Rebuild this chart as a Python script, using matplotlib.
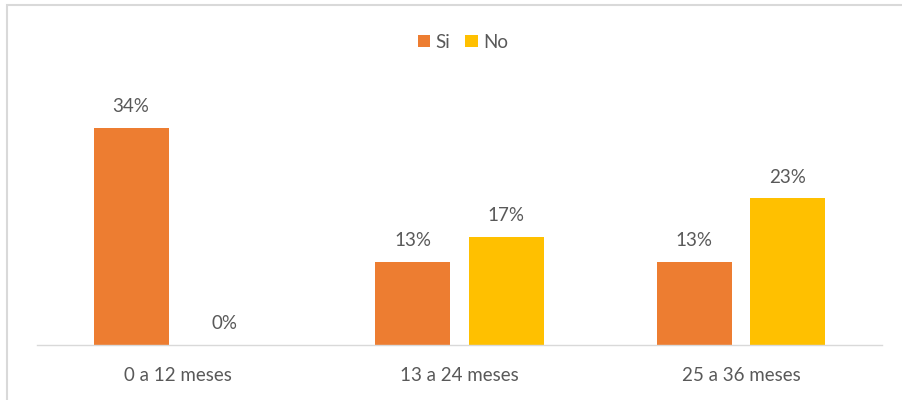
import matplotlib
matplotlib.use("Agg")
import matplotlib.pyplot as plt
import numpy as np
from matplotlib.patches import Rectangle

categories = ["0 a 12 meses", "13 a 24 meses", "25 a 36 meses"]
si_values = [34, 13, 13]
no_values = [0, 17, 23]
series_names = ["Si", "No"]

SI_COLOR = "#ED7D31"
NO_COLOR = "#FFC000"
TEXT_COLOR = "#595959"
FS = 13.5

plt.rcParams["font.family"] = ["Lato", "DejaVu Sans"]

fig = plt.figure(figsize=(9.02, 4.0), dpi=100)
ax = fig.add_axes([37 / 902, 55 / 400, 845 / 902, 255 / 400])

x = np.arange(len(categories))
width = 0.266
offset = 0.166
bars_si = ax.bar(x - offset, si_values, width, color=SI_COLOR, label=series_names[0])
bars_no = ax.bar(x + offset, no_values, width, color=NO_COLOR, label=series_names[1])

for bars, vals in ((bars_si, si_values), (bars_no, no_values)):
    for b, v in zip(bars, vals):
        ax.text(b.get_x() + b.get_width() / 2, v + 2.0, f"{v}%",
                ha="center", va="bottom", fontsize=FS, color=TEXT_COLOR)

ax.set_xlim(-0.5, 2.5)
ax.set_ylim(0, 40)
ax.set_xticks(x)
ax.set_xticklabels(categories, fontsize=FS, color=TEXT_COLOR)
ax.tick_params(axis="x", length=0, pad=16)
ax.set_yticks([])
for s in ("top", "right", "left"):
    ax.spines[s].set_visible(False)
ax.spines["bottom"].set_color("#D9D9D9")
ax.spines["bottom"].set_linewidth(1.0)

leg = fig.legend(handles=[bars_si, bars_no], labels=series_names,
                 loc="center", bbox_to_anchor=(463 / 902, 1 - 42 / 400),
                 ncol=2, frameon=False, fontsize=FS, handlelength=0.65,
                 handleheight=0.65, handletextpad=0.3, columnspacing=0.8)
for t in leg.get_texts():
    t.set_color(TEXT_COLOR)

# chart frame
fig.patches.append(Rectangle((7 / 902, -0.1), 1.2, 1.1 - 5.5 / 400,
                             transform=fig.transFigure, fill=False,
                             edgecolor="#D9D9D9", linewidth=1.5))

fig.savefig("out.png", dpi=100, facecolor="white")
